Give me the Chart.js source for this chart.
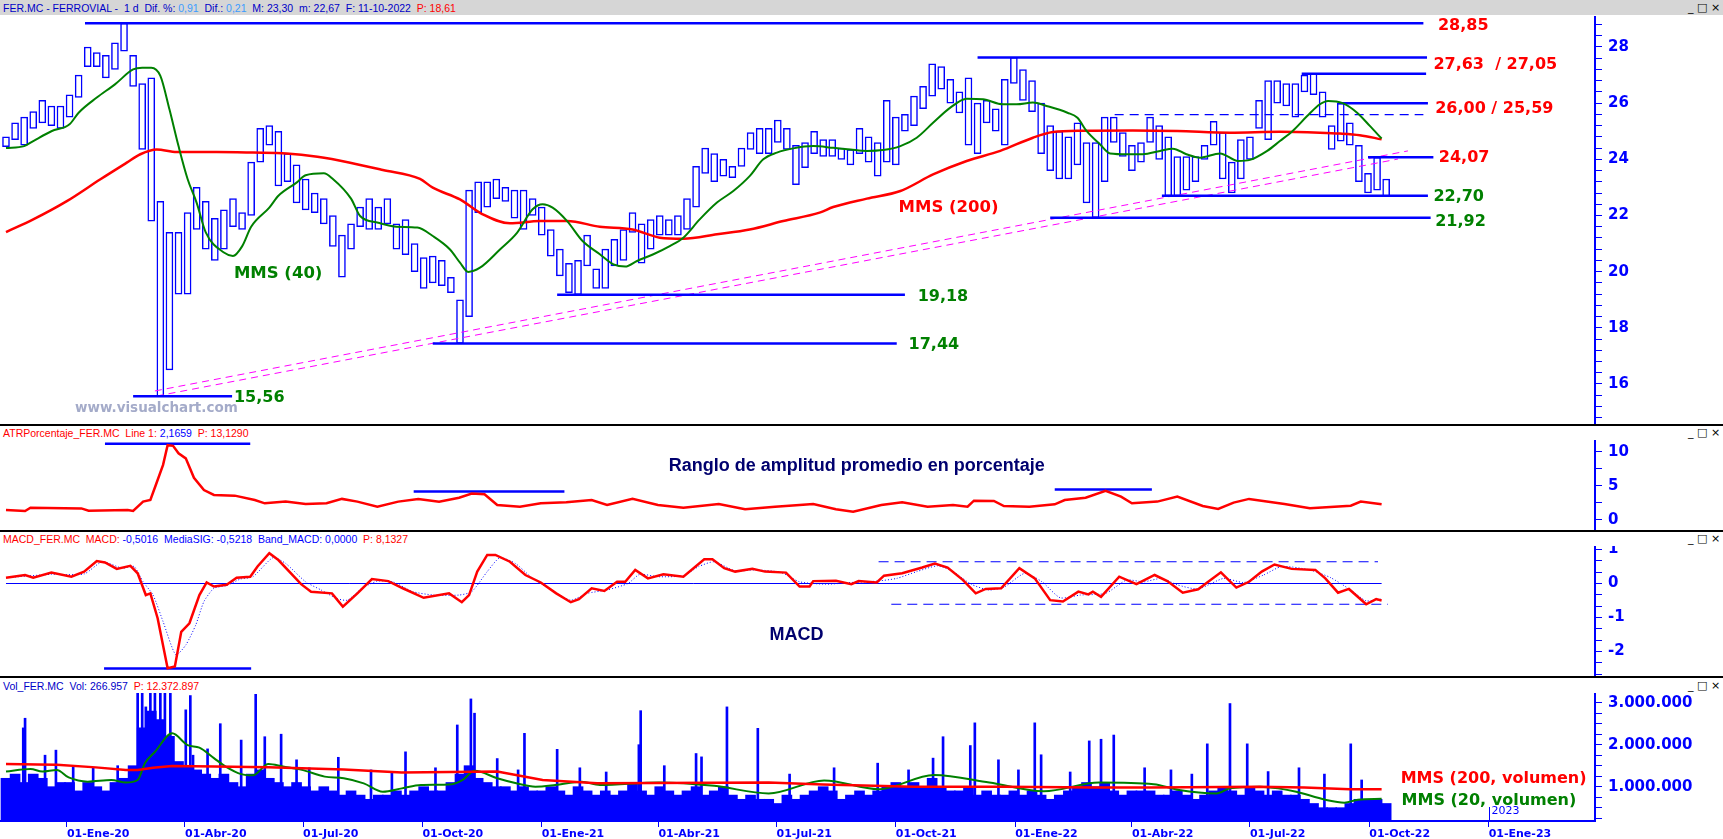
<!DOCTYPE html>
<html>
<head>
<meta charset="utf-8">
<title>FER.MC - Ferrovial</title>
<script src="https://cdn.jsdelivr.net/npm/chart.js@4.4.1/dist/chart.umd.min.js"></script>
<style>
  body { margin: 0; width: 1723px; height: 839px; position: relative; overflow: hidden; background: #fff; }
  canvas { position: absolute; left: 0; }
  .bar { position: absolute; left: 0; top: 0; width: 1723px; height: 15px; background: #d6d6d6; }
  .sep { position: absolute; left: 0; width: 1723px; height: 2px; background: #000; }
  .hdr { position: absolute; left: 3px; font: 10.5px 'Liberation Sans', sans-serif; white-space: pre; line-height: 12px; }
  .ico { position: absolute; left: 1688px; font: 11px 'DejaVu Sans', sans-serif; color: #000; white-space: pre; line-height: 12px; }
</style>
</head>
<body>
<div class="bar"></div>
<div class="hdr" style="top:2px"><span style="color:#0000c8">FER.MC - FERROVIAL -  1 d  Dif. %: </span><span style="color:#3c9cff">0,91</span><span style="color:#0000c8">  Dif.: </span><span style="color:#3c9cff">0,21</span><span style="color:#0000c8">  M: 23,30  m: 22,67  F: 11-10-2022  </span><span style="color:#ff0000">P: 18,61</span></div>
<div class="ico" style="top:2px">_ □ ×</div>

<canvas id="cPrice" width="1723" height="409" style="top:16px"></canvas>
<canvas id="cAtr" width="1723" height="91" style="top:440px"></canvas>
<canvas id="cMacd" width="1723" height="131" style="top:546px"></canvas>
<canvas id="cVol" width="1723" height="146" style="top:693px"></canvas>

<div class="sep" style="top:424px"></div>
<div class="sep" style="top:530px"></div>
<div class="sep" style="top:676px"></div>

<div class="hdr" style="top:427px"><span style="color:#ff0000">ATRPorcentaje_FER.MC  Line 1: </span><span style="color:#0000ff">2,1659</span><span style="color:#ff0000">  P: 13,1290</span></div>
<div class="ico" style="top:427px">_ □ ×</div>
<div class="hdr" style="top:533px"><span style="color:#ff0000">MACD_FER.MC  MACD: </span><span style="color:#0000ff">-0,5016  MediaSIG: -0,5218  Band_MACD: 0,0000</span><span style="color:#ff0000">  P: 8,1327</span></div>
<div class="ico" style="top:533px">_ □ ×</div>
<div class="hdr" style="top:680px"><span style="color:#0000c8">Vol_FER.MC  Vol: 266.957  </span><span style="color:#ff0000">P: 12.372.897</span></div>
<div class="ico" style="top:680px">_ □ ×</div>

<script>
// weekly sessions starting 15-Nov-2019 (index 0) up to 11-Oct-2022
const firstWeek = Date.UTC(2019, 10, 15);
const weekMs = 7 * 864e5;

const priceLow = [
  24.45, 24.7, 24.5, 25.1, 25.3, 25.2, 25.1, 25.5, 26.2, 27.3,
  27.3, 26.9, 27.2, 27.85, 26.6, 24.35, 21.8, 15.56, 16.5, 19.2,
  19.2, 21.5, 20.8, 20.4, 20.8, 21.6, 21.5, 22.0, 23.9, 24.5,
  23.05, 23.2, 22.45, 22.2, 22.1, 21.7, 20.9, 19.8, 20.8, 21.6,
  21.5, 21.5, 21.7, 20.8, 20.6, 20.0, 19.4, 19.6, 19.5, 19.25,
  17.44, 18.4, 22.1, 22.3, 22.6, 22.5, 21.9, 21.5, 22.0, 21.3,
  20.55, 19.85, 19.25, 19.18, 20.2, 19.4, 19.4, 20.2, 20.4, 21.4,
  20.3, 20.8, 21.3, 21.3, 21.3, 21.5, 22.3, 23.5, 23.2, 23.4,
  23.35, 23.75, 24.35, 24.2, 24.2, 24.6, 24.35, 23.1, 23.7, 24.2,
  24.1, 24.1, 24.0, 23.8, 24.2, 23.9, 23.4, 23.9, 23.8, 25.0,
  25.2, 25.8, 26.25, 26.5, 26.0, 25.65, 24.5, 24.2, 25.3, 25.0,
  24.5, 26.7, 26.1, 25.7, 24.2, 23.6, 23.3, 23.3, 23.8, 22.45,
  21.92, 23.2, 24.6, 24.1, 23.6, 23.9, 24.6, 24.0, 22.7, 22.7,
  22.9, 23.2, 24.0, 24.5, 23.3, 22.8, 23.3, 24.0, 25.1, 24.7,
  26.0, 25.9, 25.5, 26.4, 26.3, 25.5, 24.35, 24.65, 24.5, 23.2,
  22.8, 22.9, 22.67
];
const priceHigh = [
  24.8, 25.3, 25.5, 25.7, 26.1, 25.9, 25.9, 26.3, 27.0, 28.0,
  27.8, 27.7, 28.15, 28.85, 27.7, 26.7, 26.9, 22.5, 21.4, 21.4,
  22.1, 23.0, 22.5, 21.9, 22.2, 22.6, 22.1, 23.9, 25.1, 25.2,
  25.0, 24.2, 23.8, 23.3, 22.8, 22.6, 22.0, 21.3, 21.7, 22.3,
  22.6, 22.3, 22.6, 21.7, 21.85, 21.0, 20.5, 20.55, 20.4, 19.8,
  19.0, 22.9, 23.2, 23.2, 23.3, 23.0, 22.9, 22.9, 22.6, 22.3,
  21.5, 20.8, 20.3, 20.4, 21.3, 20.1, 20.8, 21.15, 21.5, 22.1,
  21.7, 21.85, 22.0, 21.85, 22.0, 22.6, 23.75, 24.4, 24.2, 24.0,
  23.75, 24.4, 24.95, 25.1, 25.1, 25.4, 25.1, 24.5, 24.6, 25.0,
  24.7, 24.7, 24.4, 24.35, 25.1, 24.8, 24.6, 26.1, 25.5, 25.6,
  26.25, 26.6, 27.4, 27.3, 26.85, 26.4, 26.9, 26.0, 26.1, 25.8,
  26.85, 27.63, 27.2, 26.8, 26.0, 25.2, 25.0, 24.8, 25.3, 24.6,
  24.6, 25.5, 25.5, 24.95, 24.5, 24.6, 25.5, 25.2, 24.8, 24.1,
  24.1, 24.1, 24.5, 25.35, 24.95, 23.9, 24.7, 24.8, 26.1, 26.8,
  26.8, 26.7, 26.7, 27.0, 27.05, 26.4, 25.2, 26.0, 25.3, 24.5,
  23.5, 24.07, 23.3
];

const ma40Weeks = [0, 2, 3, 5, 7, 8, 10, 12, 14, 15, 16, 17, 18, 19, 20, 21, 22, 24, 25, 26,
  27, 29, 30, 32, 33, 35, 36, 38, 39, 41, 43, 45.3, 47, 48.9, 50, 50.9, 52.2, 54.4, 56.3, 58,
  59.1, 60.2, 61.8, 63.5, 65.4, 66.9, 68.2, 69.5, 71.3, 73.1, 74.6, 76.4, 78.3, 80.1, 81.9, 83.4, 84.9, 86.7, 88.9, 91.1,
  93, 94.8, 96.6, 98.5, 100.3, 102.1, 104, 105.8, 107.6, 109.8, 111.3, 113.1, 114.6, 116.9, 118, 119, 120.5, 121.6, 123.5, 125.2,
  127.1, 128.5, 130, 131.5, 133.7, 135.7, 137, 138.9, 140.3, 141.7, 143.3, 144.7, 145.6, 147.2, 148.8, 150.2, 151.5];
const ma40Values = [24.4, 24.47, 24.65, 25.0, 25.25, 25.66, 26.2, 26.67, 27.2, 27.26, 27.26, 26.97, 25.78, 24.47, 23.3, 22.45, 21.4, 20.68, 20.56, 20.9,
  21.6, 22.28, 22.7, 23.17, 23.43, 23.5, 23.3, 22.6, 21.98, 21.74, 21.6, 21.57, 21.27, 20.79, 20.32, 19.99, 20.14, 20.79, 21.39, 22.22,
  22.4, 22.28, 21.8, 21.09, 20.62, 20.26, 20.18, 20.38, 20.62, 20.91, 21.21, 21.86, 22.46, 22.87, 23.4, 24.0, 24.24, 24.39, 24.47, 24.41,
  24.35, 24.3, 24.33, 24.47, 24.77, 25.3, 25.84, 26.16, 26.14, 25.96, 25.96, 26.02, 25.9, 25.66, 25.48, 25.01, 24.53, 24.21, 24.18, 24.18,
  24.3, 24.38, 24.18, 24.06, 24.21, 23.94, 23.98, 24.3, 24.65, 25.01, 25.54, 25.96, 26.08, 26.0, 25.66, 25.19, 24.74];

const ma200Weeks = [0, 3, 6.7, 10.4, 13.3, 14.8, 16.6, 18.8, 23.2, 27.2, 30.9, 34.3, 37.9, 41.5, 45.6, 47, 50, 52.5, 55.5, 58.8,
  61.8, 65.4, 69, 72, 74.6, 78.3, 81.9, 85.6, 89.6, 91.1, 94.8, 98.5, 102.1, 105.8, 109.5, 113.1, 115.3, 118.6, 124.1, 129,
  134.8, 140.3, 144.7, 146.9, 149.1, 151.5];
const ma200Values = [21.41, 21.86, 22.51, 23.29, 23.88, 24.18, 24.35, 24.26, 24.26, 24.24, 24.21, 24.09, 23.88, 23.62, 23.3, 22.99, 22.57, 22.04, 21.72, 21.8,
  21.8, 21.6, 21.5, 21.21, 21.17, 21.33, 21.5, 21.8, 22.1, 22.3, 22.6, 22.87, 23.46, 23.94, 24.3, 24.77, 24.97, 25.02, 25.03, 25.01,
  24.95, 24.98, 24.95, 24.92, 24.86, 24.71];

// support / resistance levels drawn on the price panel
const levelValues = [28.85, 27.63, 27.05, 26.00, 25.59, 24.07, 22.70, 21.92, 19.18, 17.44, 15.56];
const levelFrom = [8.7, 107.0, 142.7, 146.7, 122.1, 150.0, 127.3, 115.0, 60.7, 47.0, 14.0];
const levelTo = [156.1, 156.5, 156.4, 156.6, 156.1, 157.2, 156.6, 156.9, 99.0, 98.1, 24.9];

// rising support channel (two dashed magenta lines)
const trendFrom = [16.4, 16.6];
const trendTo = [154.4, 153.3];
const trendStart = [15.75, 15.57];
const trendEnd = [24.30, 24.01];

const atrWeeks = [0, 2.1, 2.7, 8.3, 9.1, 13.4, 14.0, 15.1, 15.9, 16.5, 17.3, 17.8, 18.4, 19.0, 19.8, 20.7, 21.8, 22.9, 25.2, 27.4,
  28.5, 30.8, 33.0, 35.3, 37.0, 38.7, 40.9, 43.2, 45.4, 47.7, 49.9, 51.3, 52.7, 54.1, 56.6, 58.9, 61.7, 64.5, 66.2, 69.0,
  71.8, 74.6, 78.5, 81.4, 84.7, 87.4, 88.9, 91.4, 93.3, 96.4, 98.7, 101.5, 104.3, 105.9, 106.6, 108.8, 109.9, 112.7, 115.5, 116.6,
  118.9, 121.1, 122.8, 124.0, 126.8, 129.0, 131.8, 133.5, 135.2, 136.9, 140.8, 143.6, 148.1, 149.2, 151.5];
const atrValues = [1.47, 1.32, 1.8, 1.7, 1.37, 1.47, 1.32, 2.7, 2.94, 5.15, 8.1, 11.0, 10.9, 9.8, 9.06, 6.2, 4.4, 3.68, 3.58, 2.94,
  2.45, 2.7, 2.35, 2.45, 3.1, 2.7, 1.96, 2.7, 3.1, 2.7, 3.28, 3.9, 3.77, 2.2, 1.96, 2.45, 2.6, 2.94, 2.2, 3.1,
  2.2, 1.8, 2.35, 1.57, 1.96, 2.2, 2.35, 1.57, 1.22, 2.2, 2.6, 1.96, 2.2, 1.96, 2.84, 2.8, 2.05, 1.96, 2.3, 2.94,
  3.28, 4.3, 3.43, 2.45, 2.7, 3.43, 2.05, 1.62, 2.55, 3.1, 2.35, 1.72, 2.1, 2.7, 2.3];
const atrLevelValues = [11.2, 4.2, 4.5];
const atrLevelFrom = [10.9, 44.9, 115.5];
const atrLevelTo = [26.9, 61.5, 126.2];

const macdWeeks = [0, 2.1, 3.0, 5.0, 7.2, 8.6, 10.0, 10.9, 12.2, 13.7, 14.5, 15.4, 15.9, 16.7, 17.8, 18.6, 19.3, 20.2, 21.3, 22.1,
  22.9, 24.3, 25.4, 26.9, 27.7, 29.0, 30.0, 32.5, 33.6, 35.9, 37.1, 38.7, 40.3, 42.1, 43.7, 46.0, 48.8, 50.2, 51.0, 51.9,
  53.0, 53.9, 55.5, 57.2, 58.9, 60.6, 62.2, 63.1, 64.5, 65.9, 67.3, 68.2, 69.3, 70.7, 72.4, 74.6, 76.9, 77.8, 79.1, 80.3,
  82.2, 83.6, 85.9, 87.4, 88.5, 88.9, 91.4, 93.1, 93.9, 95.9, 96.7, 98.7, 100.9, 102.3, 103.7, 105.4, 106.8, 107.9, 109.6, 111.6,
  113.3, 115.0, 116.4, 118.1, 119.2, 119.7, 120.6, 122.6, 124.5, 126.5, 127.9, 129.6, 131.3, 132.4, 133.8, 135.5, 136.9, 138.3, 139.7, 141.6,
  144.2, 145.3, 146.7, 147.9, 149.8, 150.9, 151.5];
const macdValues = [0.17, 0.25, 0.17, 0.32, 0.2, 0.35, 0.66, 0.62, 0.43, 0.52, 0.3, -0.34, -0.29, -1.02, -2.49, -2.44, -1.42, -1.17, -0.34, 0.03,
  -0.09, -0.04, 0.17, 0.2, 0.5, 0.89, 0.69, -0.02, -0.24, -0.29, -0.68, -0.29, 0.13, 0.07, -0.14, -0.42, -0.29, -0.55, -0.34, 0.35,
  0.84, 0.84, 0.64, 0.25, 0.03, -0.29, -0.55, -0.46, -0.14, -0.22, 0.05, 0.05, 0.4, 0.15, 0.27, 0.2, 0.71, 0.71, 0.45, 0.35,
  0.43, 0.35, 0.32, -0.09, -0.09, 0.07, 0.08, -0.02, 0.07, 0.03, 0.23, 0.3, 0.47, 0.59, 0.47, 0.1, -0.29, -0.16, -0.14, 0.45,
  0.15, -0.49, -0.53, -0.24, -0.32, -0.24, -0.39, 0.2, -0.02, 0.25, 0.07, -0.27, -0.17, 0.05, 0.33, -0.12, 0.05, 0.35, 0.56, 0.43,
  0.4, 0.15, -0.27, -0.16, -0.61, -0.46, -0.5];
const sigWeeks = [0, 5.0, 8.6, 10.6, 12.8, 14.1, 15.1, 16.2, 17.3, 18.7, 19.8, 20.9, 21.8, 22.9, 24.3, 25.8, 27.2, 29.4, 30.8, 33.0,
  34.7, 36.4, 37.6, 39.2, 40.9, 42.6, 44.8, 47.1, 49.9, 51.3, 53.0, 54.4, 56.1, 57.8, 60.0, 62.2, 64.0, 66.2, 68.5, 69.8,
  71.8, 74.6, 76.3, 78.0, 80.3, 82.5, 85.3, 87.4, 90.3, 93.1, 95.9, 98.1, 100.3, 102.6, 104.3, 106.3, 108.2, 109.9, 112.2, 114.1,
  116.1, 118.3, 121.1, 123.4, 125.3, 127.3, 129.0, 131.3, 134.1, 136.3, 138.5, 140.5, 143.6, 145.9, 148.1, 149.8, 151.5];
const sigValues = [0.17, 0.27, 0.28, 0.64, 0.45, 0.5, 0.05, -0.34, -1.12, -2.1, -1.81, -1.22, -0.53, -0.14, -0.06, 0.13, 0.2, 0.76, 0.59, 0.05,
  -0.19, -0.44, -0.49, -0.14, 0.07, 0.05, -0.24, -0.34, -0.34, -0.24, 0.35, 0.76, 0.59, 0.2, -0.19, -0.49, -0.29, -0.19, 0, 0.27,
  0.2, 0.23, 0.5, 0.64, 0.37, 0.4, 0.33, 0.05, -0.02, 0.03, 0.07, 0.15, 0.35, 0.52, 0.35, -0.02, -0.19, -0.11, 0.3, 0.05,
  -0.42, -0.34, -0.29, 0.1, 0.05, 0.15, -0.04, -0.16, 0.15, 0.03, 0.25, 0.5, 0.4, 0.17, -0.19, -0.51, -0.46];
const macdBandUp = 0.64, macdBandDown = -0.61, macdLow = -2.5;

// volume in millions of shares
const volume = [
  1.2, 1.3, 1.1, 1.3, 1.2, 1.0, 1.1, 1.1, 0.9, 1.1,
  1.0, 0.9, 1.1, 1.2, 1.5, 2.4, 2.8, 2.6, 2.2, 1.6,
  1.5, 1.4, 1.3, 1.2, 1.3, 1.1, 1.0, 1.3, 1.4, 1.2,
  1.1, 1.0, 1.1, 1.0, 0.9, 1.0, 0.9, 0.8, 0.9, 0.8,
  0.7, 0.8, 0.8, 0.9, 0.8, 0.9, 1.0, 0.9, 0.9, 1.1,
  1.3, 1.5, 1.2, 1.1, 1.0, 1.0, 0.9, 1.0, 0.9, 0.9,
  1.0, 0.9, 0.8, 1.0, 0.9, 0.8, 0.9, 0.8, 0.9, 1.1,
  0.9, 0.8, 1.0, 0.9, 0.8, 0.9, 1.0, 0.8, 0.9, 1.0,
  0.8, 0.7, 0.8, 0.7, 0.7, 0.6, 0.8, 0.7, 0.8, 0.9,
  1.0, 0.9, 0.7, 0.8, 0.9, 0.8, 0.9, 1.0, 1.1, 1.0,
  1.1, 1.0, 1.2, 1.0, 0.9, 0.9, 1.0, 0.8, 0.9, 0.8,
  0.8, 0.9, 0.8, 0.9, 0.8, 0.7, 0.8, 0.9, 1.0, 1.1,
  1.0, 1.1, 0.9, 0.8, 0.9, 0.9, 0.9, 0.8, 0.8, 0.9,
  0.8, 0.7, 0.8, 0.9, 1.0, 0.9, 0.8, 1.0, 0.9, 0.8,
  0.9, 0.8, 0.8, 0.7, 0.6, 0.5, 0.5, 0.5, 0.6, 0.7,
  0.7, 0.7, 0.6
];
// single heavy sessions standing out of the weekly block
const spikeWeeks = [1.9, 2.1, 4.3, 5.5, 7.4, 9.6, 12.3, 14.5, 15.0, 15.4, 15.9, 16.4, 17.0, 17.5, 18.1, 19.8, 20.3, 20.6,
  22.2, 23.6, 25.9, 27.5, 28.5, 30.3, 32.0, 33.4, 36.6, 40.2, 42.5, 44.0, 47.3, 49.7, 51.2, 51.6, 54.1, 56.4, 57.1, 60.7,
  63.2, 66.1, 69.7, 69.9, 72.5, 76.0, 76.6, 79.4, 82.8, 86.3, 91.2, 96.0, 99.4, 102.1, 103.2, 106.2, 106.7, 109.3,
  111.5, 113.3, 114.0, 117.2, 119.3, 120.6, 122.0, 125.4, 128.3, 130.6, 132.3, 134.8, 136.7, 139.0, 142.4, 145.2, 148.1, 149.3];
const spikeValues = [2.4, 2.63, 1.75, 1.87, 1.48, 1.45, 1.5, 3.3, 3.3, 2.9, 3.3, 3.3, 3.3, 3.3, 3.3, 2.83, 3.17, 1.75,
  1.9, 2.5, 2.11, 3.2, 2.19, 2.25, 1.64, 1.45, 1.7, 1.4, 1.35, 1.83, 1.45, 2.47, 3.09, 2.75, 1.67, 1.4, 2.27, 1.89,
  1.45, 1.35, 2.0, 2.81, 1.5, 1.79, 1.71, 2.9, 2.39, 1.3, 1.45, 1.56, 1.4, 1.68, 2.19, 1.98, 2.52, 1.64,
  1.4, 2.52, 1.76, 1.35, 2.09, 2.13, 2.23, 1.45, 1.4, 1.3, 2.02, 2.98, 2.02, 1.36, 1.45, 1.3, 2.02, 1.16];
const vma20Weeks = [0, 2.7, 4, 5.6, 6.9, 9, 11.6, 13.2, 14.5, 15.3, 16.4, 18.3, 20, 21.3, 22.9, 24.2, 25.9, 27.2, 28.9, 30.5,
  32.6, 35.1, 37.2, 39.4, 41.5, 43.6, 45.7, 49.1, 50.3, 51.6, 54.1, 56.2, 58.3, 60.5, 63.4, 65.4, 71.9, 78, 84, 90.1,
  96.1, 102.2, 108.3, 114.3, 120.4, 126.4, 129.2, 133.3, 134.8, 138.1, 140.1, 142.1, 145.3, 147.4, 148.9, 151.5];
const vma20Values = [1.36, 1.42, 1.36, 1.4, 1.22, 1.12, 1.16, 1.1, 1.16, 1.56, 1.83, 2.27, 1.99, 1.93, 1.68, 1.48, 1.3, 1.27, 1.54, 1.48,
  1.4, 1.24, 1.2, 1.08, 0.88, 0.96, 1.04, 1.06, 1.16, 1.38, 1.2, 1.08, 1.0, 1.04, 1.12, 1.04, 1.1, 1.02, 0.84, 1.15,
  0.94, 1.28, 1.1, 0.89, 1.1, 1.06, 0.92, 0.84, 0.96, 1.0, 0.96, 0.88, 0.69, 0.62, 0.69, 0.71];
const vma200Weeks = [0, 3.5, 5.6, 9.9, 13.2, 14.5, 16.2, 18.3, 23, 28.9, 37.2, 43.6, 54.1, 59.1, 65.1, 84, 90, 100, 110, 120, 126, 138, 143, 148, 151.5];
const vma200Values = [1.54, 1.53, 1.52, 1.46, 1.4, 1.4, 1.45, 1.49, 1.48, 1.46, 1.41, 1.34, 1.36, 1.16, 1.08, 1.1, 1.05, 1.0, 1.0, 0.98, 0.98, 1.0, 0.98, 0.94, 0.94];

const tickDates = ['2020-01-01', '2020-04-01', '2020-07-01', '2020-10-01', '2021-01-01', '2021-04-01', '2021-07-01',
  '2021-10-01', '2022-01-01', '2022-04-01', '2022-07-01', '2022-10-01', '2023-01-01'];
const tickLabels = ['01-Ene-20', '01-Abr-20', '01-Jul-20', '01-Oct-20', '01-Ene-21', '01-Abr-21', '01-Jul-21',
  '01-Oct-21', '01-Ene-22', '01-Abr-22', '01-Jul-22', '01-Oct-22', '01-Ene-23'];

const xMin = -0.66, xMax = 175.0;
const BLUE = '#0000ff', RED = '#ff0000', GREEN = '#008000', NAVY = '#00006e', MAGENTA = '#ff00ff';
const lvlFont = 'bold 16px "DejaVu Sans"';
const noteFont = 'bold 18px "Liberation Sans"';

function weekOf(d) { return (Date.parse(d) - firstWeek) / weekMs; }
const pts = (xs, ys) => xs.map((x, i) => ({ x, y: ys[i] }));
const seg = (x0, x1, y0, y1) => [{ x: x0, y: y0 }, { x: x1, y: y1 === undefined ? y0 : y1 }];

function line(data, color, width, extra) {
  return Object.assign({ type: 'line', data, borderColor: color, borderWidth: width, pointRadius: 0,
    tension: 0, fill: false, order: 1 }, extra || {});
}

// text labels placed in data coordinates
const notesPlugin = {
  id: 'notes',
  afterDatasetsDraw(chart, args, opts) {
    const ctx = chart.ctx, xs = chart.scales.x, ys = chart.scales.y;
    (opts.items || []).forEach(n => {
      ctx.save();
      ctx.font = n.font;
      ctx.fillStyle = n.color;
      ctx.textAlign = n.align || 'left';
      ctx.textBaseline = 'middle';
      ctx.fillText(n.text, xs.getPixelForValue(n.x), ys.getPixelForValue(n.y) + (n.dy || 0));
      ctx.restore();
    });
  }
};

function yAxis(min, max, step, fmt) {
  return {
    position: 'right', min, max,
    border: { color: BLUE, width: 2 },
    grid: { drawOnChartArea: false, color: BLUE, tickLength: 7 },
    ticks: { stepSize: step, maxTicksLimit: 1000, autoSkip: false, includeBounds: false, color: BLUE, padding: 6,
      font: { family: 'DejaVu Sans', size: 15, weight: 'bold' }, callback: fmt },
    afterFit: s => { s.width = 128; s.paddingTop = 0; s.paddingBottom = 0; }
  };
}

function hiddenX() {
  return { type: 'linear', min: xMin, max: xMax, offset: false, display: false, grid: { offset: false } };
}

function makeChart(id, datasets, y, notes, x, extraPlugins) {
  return new Chart(document.getElementById(id), {
    type: 'line',
    data: { datasets },
    options: {
      responsive: false, animation: false, devicePixelRatio: 1, events: [],
      layout: { padding: 0 },
      plugins: { legend: { display: false }, tooltip: { enabled: false }, notes: { items: notes } },
      scales: { x: x || hiddenX(), y }
    },
    plugins: [notesPlugin].concat(extraPlugins || [])
  });
}

const isInt = v => Math.abs(v - Math.round(v)) < 1e-4;

// ---------- price panel ----------
const priceSets = [
  line(pts(ma40Weeks, ma40Values), GREEN, 2, { cubicInterpolationMode: 'monotone' }),
  line(pts(ma200Weeks, ma200Values), RED, 2.5, { cubicInterpolationMode: 'monotone' })
];
levelValues.forEach((v, i) => {
  const dashed = v === 25.59;
  priceSets.push(line(seg(levelFrom[i], levelTo[i], v), BLUE, dashed ? 1.2 : 2.5, dashed ? { borderDash: [9, 6] } : {}));
});
trendFrom.forEach((w, i) => {
  priceSets.push(line(seg(w, trendTo[i], trendStart[i], trendEnd[i]), MAGENTA, 1, { borderDash: [7, 5] }));
});
// weekly high-low range drawn as open candles
priceSets.push({
  type: 'bar', order: 10, grouped: false,
  data: priceHigh.map((h, i) => ({ x: i, y: [priceLow[i], h] })),
  backgroundColor: '#ffffff', borderColor: BLUE, borderWidth: 1.5, borderSkipped: false, barThickness: 7
});

makeChart('cPrice', priceSets,
  yAxis(14.538, 29.104, 0.4, v => (isInt(v) && Math.round(v) % 2 === 0) ? String(Math.round(v)) : ''),
  [
    { text: '28,85', x: 157.7, y: 28.85, dy: 3, color: RED, font: lvlFont },
    { text: '27,63  / 27,05', x: 157.2, y: 27.63, dy: 7, color: RED, font: lvlFont },
    { text: '26,00 / 25,59', x: 157.4, y: 26.00, dy: 6, color: RED, font: lvlFont },
    { text: '24,07', x: 157.8, y: 24.07, color: RED, font: lvlFont },
    { text: '22,70', x: 157.2, y: 22.70, dy: 1, color: GREEN, font: lvlFont },
    { text: '21,92', x: 157.4, y: 21.92, dy: 4, color: GREEN, font: lvlFont },
    { text: '19,18', x: 100.4, y: 19.18, dy: 2, color: GREEN, font: lvlFont },
    { text: '17,44', x: 99.4, y: 17.44, dy: 1, color: GREEN, font: lvlFont },
    { text: '15,56', x: 25.1, y: 15.56, dy: 2, color: GREEN, font: lvlFont },
    { text: 'MMS (40)', x: 25.1, y: 19.92, color: GREEN, font: 'bold 16.5px "DejaVu Sans"' },
    { text: 'MMS (200)', x: 98.3, y: 22.27, color: RED, font: 'bold 16.5px "DejaVu Sans"' },
    { text: 'www.visualchart.com', x: 7.6, y: 15.11, color: '#a4abc9', font: 'bold 13.5px "DejaVu Sans"' }
  ]);

// ---------- ATR panel ----------
const atrSets = [line(pts(atrWeeks, atrValues), RED, 2.5)];
atrLevelValues.forEach((v, i) => atrSets.push(line(seg(atrLevelFrom[i], atrLevelTo[i], v), BLUE, 2.5)));
makeChart('cAtr', atrSets,
  yAxis(-1.62, 11.76, 2.5, v => (isInt(v) && Math.round(v) % 5 === 0) ? String(Math.round(v)) : ''),
  [{ text: 'Ranglo de amplitud promedio en porcentaje', x: 93.7, y: 7.94, align: 'center', color: NAVY, font: noteFont }]);

// ---------- MACD panel ----------
makeChart('cMacd', [
  line(pts(macdWeeks, macdValues), RED, 2.5),
  line(pts(sigWeeks, sigValues), BLUE, 1, { borderDash: [1, 2], tension: 0.2 }),
  line(seg(0, 151.5, 0), BLUE, 1),
  line(seg(10.8, 27.0, macdLow), BLUE, 2.5),
  line(seg(96.1, 151.1, macdBandUp), BLUE, 1.2, { borderDash: [10, 6] }),
  line(seg(97.5, 152.2, macdBandDown), BLUE, 1.2, { borderDash: [10, 6] })
], yAxis(-2.75, 1.103, 1 / 3, v => isInt(v) ? String(Math.round(v)) : ''),
  [{ text: 'MACD', x: 84.1, y: -1.51, color: NAVY, font: noteFont }]);

// ---------- volume panel ----------
const fmtVol = n => String(Math.round(n * 1e6)).replace(/\B(?=(\d{3})+(?!\d))/g, '.');
const yearPlugin = {
  id: 'yearMark',
  afterDraw(chart) {
    const ctx = chart.ctx, x = Math.round(chart.scales.x.getPixelForValue(weekOf('2023-01-01'))) + 0.5;
    const b = chart.chartArea.bottom;
    ctx.save();
    ctx.strokeStyle = BLUE; ctx.lineWidth = 1;
    ctx.beginPath(); ctx.moveTo(x, b - 14); ctx.lineTo(x, b); ctx.stroke();
    ctx.font = '11px "DejaVu Sans"'; ctx.fillStyle = BLUE; ctx.textBaseline = 'middle';
    ctx.fillText('2023', x + 2, b - 10);
    ctx.restore();
  }
};
makeChart('cVol', [
  line(pts(vma200Weeks, vma200Values), RED, 2.5),
  line(pts(vma20Weeks, vma20Values), GREEN, 2, { cubicInterpolationMode: 'monotone' }),
  { type: 'bar', order: 10, grouped: false, data: volume.map((v, i) => ({ x: i, y: v })),
    backgroundColor: BLUE, borderWidth: 0, barThickness: 10 },
  { type: 'bar', order: 9, grouped: false, data: pts(spikeWeeks, spikeValues),
    backgroundColor: BLUE, borderWidth: 0, barThickness: 2 }
], yAxis(0.183, 3.231, 0.25, v => isInt(v) && v > 0.5 ? fmtVol(Math.round(v)) : ''),
  [
    { text: 'MMS (200, volumen)', x: 153.6, y: 1.18, color: RED, font: 'bold 16px "DejaVu Sans"' },
    { text: 'MMS (20, volumen)', x: 153.7, y: 0.66, color: GREEN, font: 'bold 16px "DejaVu Sans"' }
  ],
  {
    type: 'linear', min: xMin, max: xMax, offset: false,
    border: { color: BLUE, width: 2 },
    grid: { drawOnChartArea: false, color: BLUE, tickLength: 6, offset: false },
    ticks: { autoSkip: false, maxRotation: 0, align: 'start', color: BLUE, padding: 1,
      font: { family: 'DejaVu Sans', size: 11, weight: 'bold' },
      callback: (v, i) => tickLabels[i] },
    afterBuildTicks: s => { s.ticks = tickDates.map(d => ({ value: weekOf(d) })); },
    afterFit: s => { s.height = 18; s.paddingLeft = 0; s.paddingRight = 0; }
  },
  [yearPlugin]);
</script>
</body>
</html>
